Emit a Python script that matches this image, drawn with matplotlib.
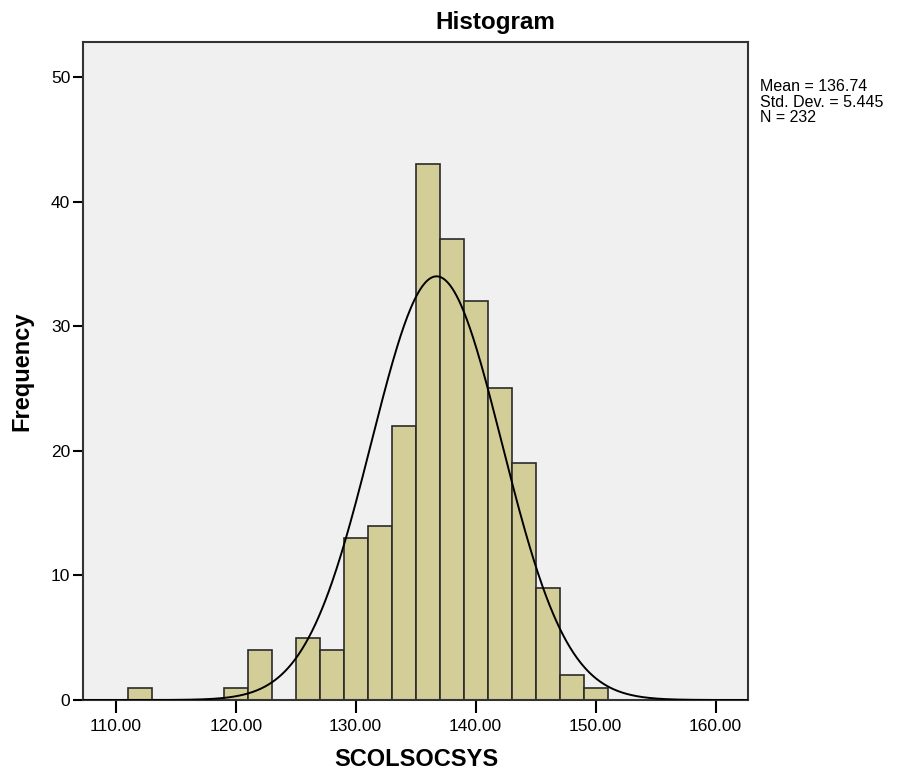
import matplotlib
matplotlib.use("Agg")
import matplotlib.pyplot as plt
import numpy as np

plt.rcParams['font.family'] = ['Liberation Sans', 'DejaVu Sans']

# histogram bins (left edge) and their frequencies
bin_left = [111, 119, 121, 125, 127, 129, 131, 133, 135, 137, 139, 141, 143, 145, 147, 149]
counts = [1, 1, 4, 5, 4, 13, 14, 22, 43, 37, 32, 25, 19, 9, 2, 1]
bin_width = 2

mean = 136.74
std = 5.445
n = 232

xticks = [110, 120, 130, 140, 150, 160]
yticks = [0, 10, 20, 30, 40, 50]

fig = plt.figure(figsize=(8.98, 7.73), dpi=100)
ax = fig.add_axes([0.0921, 0.0944, 0.7409, 0.8513])
ax.set_facecolor('#F0F0F0')

ax.bar(bin_left, counts, width=bin_width, align='edge',
       color='#D3CE97', edgecolor='#2a2a2a', linewidth=1.2, zorder=2)

# fitted normal curve
xs = np.linspace(107, 163, 600)
ys = n * bin_width / (std * np.sqrt(2 * np.pi)) * np.exp(-0.5 * ((xs - mean) / std) ** 2)
ax.plot(xs, ys, color='black', linewidth=1.4, zorder=3)

ax.set_xlim(107.25, 162.7)
ax.set_ylim(0, 52.8)
ax.set_xticks(xticks)
ax.set_xticklabels(['{:.2f}'.format(t) for t in xticks])
ax.set_yticks(yticks)
ax.tick_params(axis='x', direction='out', length=9, width=1.5, labelsize=12.5, pad=5)
ax.tick_params(axis='y', direction='out', length=7, width=1.5, labelsize=12.5, pad=2)
for s in ax.spines.values():
    s.set_color('#333333')
    s.set_linewidth(1.5)

fig.text(495 / 898, 1 - 22 / 773, 'Histogram', ha='center', va='center',
         fontsize=17.5, fontweight='bold')
fig.text(22 / 898, 1 - 371 / 773, 'Frequency', ha='center', va='center',
         rotation=90, fontsize=17, fontweight='bold')
fig.text(416 / 898, 1 - 760 / 773, 'SCOLSOCSYS', ha='center', va='center',
         fontsize=17, fontweight='bold')
fig.text(760 / 898, 1 - 79 / 773,
         'Mean = {:.2f}\nStd. Dev. = {:.3f}\nN = {}'.format(mean, std, n),
         ha='left', va='top', fontsize=11.5, linespacing=1.05)

fig.savefig('out.png', dpi=100)
